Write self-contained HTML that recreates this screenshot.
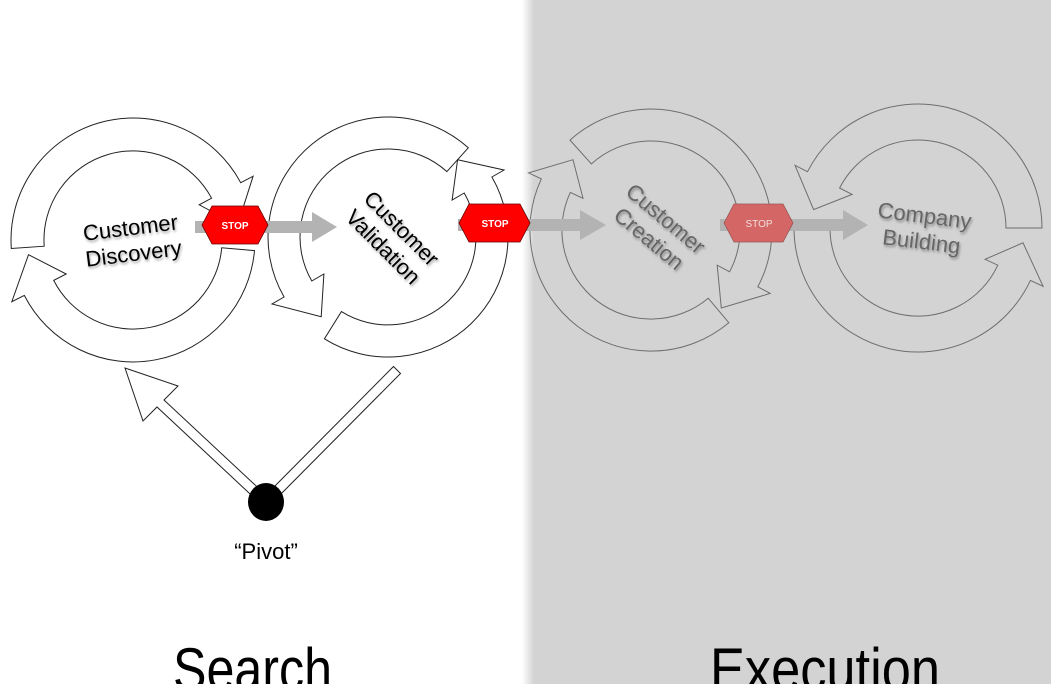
<!DOCTYPE html>
<html><head><meta charset="utf-8"><style>
html,body{margin:0;padding:0;background:#fff;}
svg{display:block;}
</style></head><body>
<svg id="s" width="1051" height="684" viewBox="0 0 1051 684" xmlns="http://www.w3.org/2000/svg">
<defs>
<linearGradient id="edge" x1="0" x2="1" y1="0" y2="0">
<stop offset="0" stop-color="#fff"/><stop offset="1" stop-color="#d3d3d3"/>
</linearGradient>
<filter id="sh" x="-20%" y="-20%" width="140%" height="140%"><feDropShadow dx="1" dy="2" stdDeviation="1.2" flood-color="#000" flood-opacity="0.35"/></filter>
</defs>
<rect x="532" y="0" width="519" height="684" fill="#d3d3d3"/>
<rect x="522" y="0" width="12" height="684" fill="url(#edge)"/>
<g id="arrows"></g>
<g fill="#b3b3b3">
<polygon points="195,221 312,221 312,212 337,227 312,242 312,233 195,233"/>
<polygon points="458,219 580,219 580,210 606,225 580,240 580,231 458,231"/>
<polygon points="720,219 843,219 843,210 868,225 843,240 843,231 720,231"/>
</g>
<g font-family="Liberation Sans, sans-serif" font-weight="bold" font-size="10" text-anchor="middle">
<polygon points="202,225 212,206 258,206 268,225 258,244 212,244" fill="#f00" stroke="#600" stroke-width="0.8"/>
<text x="235" y="229" fill="#fff">STOP</text>
<polygon points="459,223 469,204 520,204 530,223 520,242 469,242" fill="#f00" stroke="#600" stroke-width="0.8"/>
<text x="495" y="227" fill="#fff">STOP</text>
<polygon points="724,223 734,204 783,204 793,223 783,242 734,242" fill="#d46666" stroke="#955" stroke-width="0.8"/>
<text x="759" y="227" fill="#f3dede" font-weight="normal">STOP</text>
</g>
<polygon points="269,498 164,400 178,386 125,368 143,421 157,407 263,506" fill="#fff" stroke="#222" stroke-width="1"/>
<polygon points="262.5,498.5 393.5,366.5 400.5,373.5 269.5,505.5" fill="#fff" stroke="#222" stroke-width="1"/>
<ellipse cx="266" cy="502" rx="18" ry="19" fill="#000"/>
<g font-family="Liberation Sans, sans-serif">
<text x="266" y="559" font-size="22" text-anchor="middle" fill="#000">“Pivot”</text>
<g font-size="22" text-anchor="middle" filter="url(#sh)">
<g transform="translate(132,241) rotate(-7)"><text x="0" y="-6" fill="#000">Customer</text><text x="0" y="20" fill="#000">Discovery</text></g>
<g transform="translate(392,238) rotate(45)"><text x="0" y="-6" fill="#000">Customer</text><text x="0" y="20" fill="#000">Validation</text></g>
<g transform="translate(657,229) rotate(40)"><text x="0" y="-6" fill="#666">Customer</text><text x="0" y="20" fill="#666">Creation</text></g>
<g transform="translate(923,229) rotate(7)"><text x="0" y="-6" fill="#666">Company</text><text x="0" y="20" fill="#666">Building</text></g>
</g>
<text x="173" y="690" font-size="60" textLength="159" lengthAdjust="spacingAndGlyphs" fill="#000">Search</text>
<text x="710" y="690" font-size="60" textLength="230" lengthAdjust="spacingAndGlyphs" fill="#000">Execution</text>
</g>
</svg>
<script>
(function(){
var g=document.getElementById('arrows');
function P(cx,cy,r,a){var t=a*Math.PI/180;return (cx+r*Math.cos(t)).toFixed(1)+','+(cy+r*Math.sin(t)).toFixed(1);}
function arrow(cx,cy,R,r,s,e,tip,fill,stroke){
  var d=e>s?1:-1, span=Math.abs(e-s), large=span>180?1:0, sw=d>0?1:0, w=14;
  var p='M'+P(cx,cy,R,s)+' A'+R+','+R+' 0 '+large+' '+sw+' '+P(cx,cy,R,e)+
    ' L'+P(cx,cy,R+w,e)+' L'+P(cx,cy,(R+r)/2,tip)+' L'+P(cx,cy,r-w,e)+' L'+P(cx,cy,r,e)+
    ' A'+r+','+r+' 0 '+large+' '+(1-sw)+' '+P(cx,cy,r,s)+' Z';
  var el=document.createElementNS('http://www.w3.org/2000/svg','path');
  el.setAttribute('d',p);el.setAttribute('fill',fill);el.setAttribute('stroke',stroke);el.setAttribute('stroke-width','1');
  g.appendChild(el);
}
var W='#fff',K='#222',N='none',G='#6e6e6e';
arrow(133,240,122,89,176,332,352,W,K);
arrow(133,240,122,89,5,153,172,W,K);
arrow(388,237,120,88,312,150,130,W,K);
arrow(388,237,120,88,122,-30,-48,W,K);
arrow(651,230,121,89,228,388,408,N,G);
arrow(651,230,121,89,50,205,222,N,G);
arrow(918,228,124,88,360,207,190,N,G);
arrow(918,228,124,88,180,25,8,N,G);
})();
</script>
</body></html>
